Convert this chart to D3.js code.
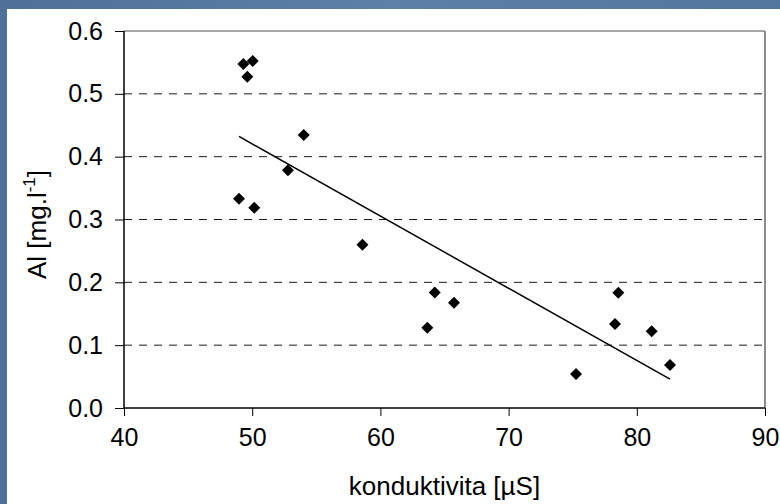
<!DOCTYPE html>
<html>
<head>
<meta charset="utf-8">
<script src="https://cdn.jsdelivr.net/npm/d3@7"></script>
<style>
  html, body { margin: 0; padding: 0; background: #56799f; }
  svg { display: block; }
  text { font-family: "Liberation Sans", Arial, sans-serif; fill: #000; }
</style>
</head>
<body>
<svg id="chart" width="780" height="504"></svg>
<script>
// ---- data ----
const conductivity = [49.31, 50.04, 49.62, 54.02, 52.79, 48.97, 50.16, 58.6, 64.24, 65.74, 63.66, 78.56, 78.30, 81.16, 82.59, 75.26];
const aluminium    = [0.5475, 0.5523, 0.5273, 0.4345, 0.3783, 0.3331, 0.3188, 0.260, 0.184, 0.1676, 0.1278, 0.1835, 0.1337, 0.1221, 0.0684, 0.0541];
const xTicks = [40, 50, 60, 70, 80, 90];
const yTicks = [0.0, 0.1, 0.2, 0.3, 0.4, 0.5, 0.6];
const xTitle = "konduktivita [µS]";

// ---- layout ----
const W = 780, H = 504;
const plot = { left: 124, right: 765, top: 31, bottom: 408 };

const svg = d3.select("#chart");

// background: blue textured frame and white panel
const defs = svg.append("defs");
const g1 = defs.append("linearGradient").attr("id", "bg").attr("x1", 0).attr("y1", 0).attr("x2", 1).attr("y2", 0);
g1.append("stop").attr("offset", 0).attr("stop-color", "#4f7099");
g1.append("stop").attr("offset", 0.5).attr("stop-color", "#5c80a6");
g1.append("stop").attr("offset", 1).attr("stop-color", "#52769d");
svg.append("rect").attr("width", W).attr("height", H).attr("fill", "url(#bg)");
svg.append("rect").attr("x", 7).attr("y", 9).attr("width", W - 7).attr("height", H - 9).attr("fill", "#fff");

const x = d3.scaleLinear().domain([40, 90]).range([plot.left, plot.right]);
const y = d3.scaleLinear().domain([0, 0.6]).range([plot.bottom, plot.top]);

// gridlines (dashed)
svg.append("g").selectAll("line").data(yTicks.filter(d => d > 0 && d < 0.6)).join("line")
  .attr("x1", plot.left).attr("x2", plot.right)
  .attr("y1", d => y(d)).attr("y2", d => y(d))
  .attr("stroke", "#1a1a1a").attr("stroke-width", 1)
  .attr("stroke-dasharray", "8,7");

// plot border (top & right, gray)
svg.append("line").attr("x1", plot.left).attr("x2", plot.right).attr("y1", plot.top).attr("y2", plot.top)
  .attr("stroke", "#8a8a8a").attr("stroke-width", 1.5);
svg.append("line").attr("x1", plot.right).attr("x2", plot.right).attr("y1", plot.top).attr("y2", plot.bottom)
  .attr("stroke", "#8a8a8a").attr("stroke-width", 2);

// axes
const xAxis = d3.axisBottom(x).tickValues(xTicks).tickFormat(d3.format("d")).tickSize(8).tickPadding(12);
const yAxis = d3.axisLeft(y).tickValues(yTicks).tickFormat(d3.format(".1f")).tickSize(9).tickPadding(12);

const gx = svg.append("g").attr("transform", `translate(0,${plot.bottom})`).call(xAxis);
const gy = svg.append("g").attr("transform", `translate(${plot.left},0)`).call(yAxis);
[gx, gy].forEach(g => {
  g.select(".domain").attr("stroke", "#000").attr("stroke-width", 1.5);
  g.selectAll(".tick line").attr("stroke", "#000").attr("stroke-width", 1);
  g.selectAll(".tick text").attr("font-size", 25).attr("font-family", "Liberation Sans, Arial, sans-serif").attr("fill", "#000");
});
gy.select(".domain").attr("d", `M0,${plot.bottom}V${plot.top}`);
gx.select(".domain").attr("d", `M${plot.left},0H${plot.right}`);

// linear trend (least squares, as the spreadsheet trendline)
const pts = conductivity.map((c, i) => ({ c, a: aluminium[i] }));
const mx = d3.mean(conductivity), my = d3.mean(aluminium);
const slope = d3.sum(pts, p => (p.c - mx) * (p.a - my)) / d3.sum(pts, p => (p.c - mx) ** 2);
const intercept = my - slope * mx;
const [xmin, xmax] = d3.extent(conductivity);
svg.append("path")
  .datum([xmin, xmax])
  .attr("d", d3.line().x(d => x(d)).y(d => y(intercept + slope * d)))
  .attr("stroke", "#000").attr("stroke-width", 1.5).attr("fill", "none");

// diamond markers
const diamond = d3.symbol().type(d3.symbolSquare).size(72);
svg.append("g").selectAll("path").data(pts).join("path")
  .attr("d", diamond)
  .attr("transform", d => `translate(${x(d.c)},${y(d.a)}) rotate(45)`)
  .attr("fill", "#000");

// axis titles
svg.append("text")
  .attr("x", (plot.left + plot.right) / 2).attr("y", 495)
  .attr("text-anchor", "middle").attr("font-size", 26)
  .text(xTitle);

const yt = svg.append("text")
  .attr("transform", `translate(46,${(plot.top + plot.bottom) / 2 + 5}) rotate(-90)`)
  .attr("text-anchor", "middle").attr("font-size", 26);
yt.append("tspan").text("Al [mg.l");
yt.append("tspan").attr("font-size", 17).attr("dy", -11).text("-1");
yt.append("tspan").attr("dy", 11).text("]");
</script>
</body>
</html>
